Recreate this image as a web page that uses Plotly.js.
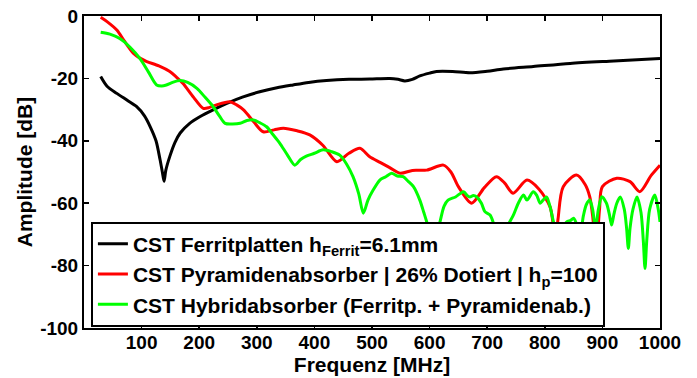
<!DOCTYPE html>
<html>
<head>
<meta charset="utf-8">
<script src="https://cdn.plot.ly/plotly-3.0.1.min.js"></script>
<style>html,body{margin:0;padding:0;background:#fff;}#chart{width:697px;height:378px;}</style>
</head>
<body>
<div id="chart"></div>
<script>
// Frequency axis values [MHz] and amplitudes [dB]
const freqFerrit = [29, 40, 57, 75, 91, 105, 115, 125, 132, 136, 139, 142, 149, 158, 167, 183, 201, 225, 248, 275, 305, 335, 363, 390, 421, 460, 496, 531, 545, 557, 570, 583, 600, 612, 640, 670, 700, 728, 780, 844, 920, 1000];
const ampFerrit = [-19.4, -22.5, -24.8, -27, -29, -32, -35.5, -40, -46, -50, -53, -49.5, -45, -40.5, -37.5, -34.5, -32.3, -30, -28, -26, -24.3, -23, -22.1, -21.3, -20.7, -20.3, -20.2, -20, -20.3, -20.8, -20.3, -19.2, -18.3, -17.8, -17.8, -18.2, -17.7, -17, -16.2, -15.2, -14.4, -13.6];

const freqPyramid = [29, 40, 57, 70, 86, 97, 109, 130, 149, 160, 172, 190, 207, 218, 230, 253, 265, 277, 295, 311, 330, 346, 370, 392, 415, 439, 460, 479, 496, 514, 530, 549, 570, 595, 624, 637, 650, 673, 695, 716, 730, 745, 769, 790, 809, 814, 818, 823, 832, 855, 870, 878, 883, 889, 895, 900, 925, 948, 965, 985, 1000];
const ampPyramid = [-0.4, -1.8, -4.5, -8, -12, -13.5, -14.6, -16, -17.8, -19.5, -21.6, -26, -29.6, -29.3, -28.5, -27.5, -28.5, -30.1, -34, -37.1, -36.5, -36, -36.8, -38.1, -41.5, -46.7, -44, -42.4, -45.1, -46.9, -48.5, -50.4, -49.5, -49.4, -47.8, -50, -54.7, -60, -55, -51.5, -53.5, -56.8, -52.6, -55.5, -61.1, -66, -73, -65, -54.7, -51, -54, -57.9, -64, -75, -62, -54.7, -52, -53.1, -56.3, -51, -47.8];

const freqHybrid = [29, 45, 62, 80, 97, 112, 126, 135, 143, 155, 167, 180, 196, 210, 224, 235, 245, 258, 271, 283, 294, 305, 317, 328, 340, 353, 366, 376, 386, 400, 415, 430, 444, 456, 467, 477, 485, 493, 502, 514, 524, 534, 544, 554, 563, 572, 583, 590, 595, 600, 606, 612, 618, 625, 632, 645, 659, 665, 670, 676, 682, 690, 696, 705, 712, 720, 728, 736, 745, 754, 763, 769, 780, 786, 792, 797, 803, 809, 815, 822, 830, 838, 845, 850, 856, 862, 867, 872, 878, 883, 888, 893, 899, 907, 912, 916, 920, 925, 931, 938, 942, 945, 948, 953, 960, 967, 971, 974, 977, 982, 991, 997, 1000];
const ampHybrid = [-5.2, -5.8, -7.2, -10, -13.6, -18, -22.1, -22.4, -22.1, -21.2, -20.7, -21.3, -23.2, -26, -29, -32, -34.4, -34.6, -34.4, -33.5, -33.3, -34.2, -35.5, -38, -40.8, -44.5, -47.8, -46, -44.9, -44, -42.9, -43.5, -44.6, -47.5, -51.5, -57, -63.2, -59, -55.8, -52.5, -51.5, -50.4, -51.3, -51.5, -53, -54.7, -59, -63, -66, -70, -74, -70, -66, -61, -59, -58, -56.3, -57.5, -58, -57.5, -58, -60, -62.7, -63.8, -67, -72, -70, -67, -64, -60, -57.4, -59, -56.3, -57.5, -60, -59, -58, -61, -66, -71, -68, -66, -65.5, -64.8, -67, -69, -64, -60.5, -59, -62, -68, -62, -57.9, -60, -63.5, -67, -63.5, -60, -58, -62, -68, -74.5, -68, -62, -58, -63, -72, -80.9, -72, -62, -57.4, -62, -66];

const xTickVals = [100, 200, 300, 400, 500, 600, 700, 800, 900, 1000];
const xTickText = ['100', '200', '300', '400', '500', '600', '700', '800', '900', '1000'];
const yTickVals = [0, -20, -40, -60, -80, -100];
const yTickText = ['0', '-20', '-40', '-60', '-80', '-100'];

const names = [
  'CST Ferritplatten h<sub>Ferrit</sub>=6.1mm',
  'CST Pyramidenabsorber | 26% Dotiert | h<sub>p</sub>=100',
  'CST Hybridabsorber (Ferritp. + Pyramidenab.)'
];

const FONT = 'Arial, "Liberation Sans", sans-serif';

const traces = [
  {x: freqFerrit, y: ampFerrit, name: names[0], mode: 'lines', line: {color: '#000000', width: 3, shape: 'spline', smoothing: 0.8}},
  {x: freqPyramid, y: ampPyramid, name: names[1], mode: 'lines', line: {color: '#ff0000', width: 3, shape: 'spline', smoothing: 0.8}},
  {x: freqHybrid, y: ampHybrid, name: names[2], mode: 'lines', line: {color: '#00ff00', width: 3, shape: 'spline', smoothing: 0.8}}
];

const axisCommon = {
  showgrid: false, zeroline: false,
  showline: true, linecolor: '#000', linewidth: 2, mirror: 'ticks',
  ticks: 'inside', ticklen: 5, tickwidth: 1.5, tickcolor: '#000',
  tickfont: {family: FONT, size: 19, color: '#000', weight: 'bold'},
  tickmode: 'array'
};

const layout = {
  width: 697, height: 378,
  margin: {l: 84, r: 37, t: 16, b: 50},
  paper_bgcolor: '#fff', plot_bgcolor: '#fff',
  showlegend: true,
  font: {family: FONT, color: '#000'},
  xaxis: Object.assign({}, axisCommon, {
    range: [0, 1000], tickvals: xTickVals, ticktext: xTickText,
    ticklabelstandoff: -4,
    title: {text: 'Frequenz [MHz]', font: {family: FONT, size: 21, color: '#000', weight: 'bold'}, standoff: 4}
  }),
  yaxis: Object.assign({}, axisCommon, {
    range: [-100, 0], tickvals: yTickVals, ticktext: yTickText,
    title: {text: 'Amplitude [dB]', font: {family: FONT, size: 21, color: '#000', weight: 'bold'}, standoff: 2}
  }),
  legend: {
    x: 0.012, y: 0.341, xanchor: 'left', yanchor: 'top',
    bgcolor: '#fff', bordercolor: '#000', borderwidth: 2,
    font: {family: FONT, size: 21, color: '#000', weight: 'bold'},
    itemwidth: 30, tracegroupgap: 0
  }
};

Plotly.newPlot('chart', traces, layout, {displayModeBar: false, staticPlot: true});
</script>
</body>
</html>
